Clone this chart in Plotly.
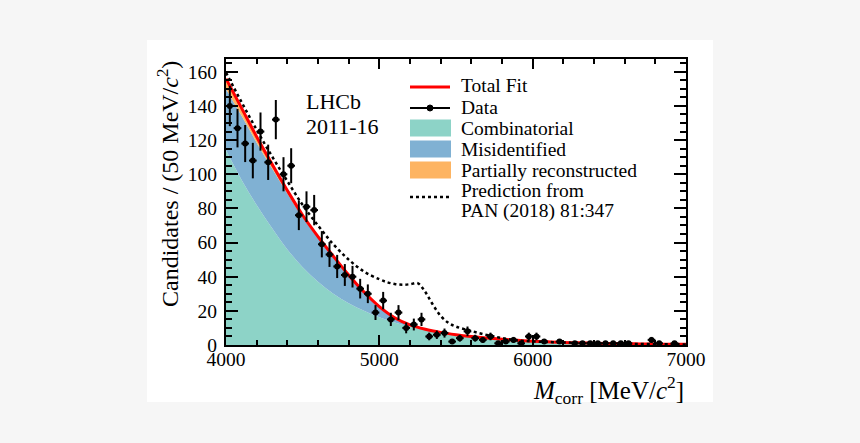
import numpy as np
import plotly.graph_objects as go

# ---------------- data ----------------
bin_width = 50
bin_centers = [4025 + 50 * i for i in range(60)]
counts = [140, 127, 118, 108, 125, 107, 132, 100, 105, 76,
          81, 79, 59, 53, 46, 41, 40, 33, 30, 19,
          26, 15, 19, 10, 12, 15, 5, 6, 7, 2,
          4, 8, 4, 3, 5, 1, 2, 3, 1, 5,
          5, 2, 0, 2, 0, 1, 1, 1, 1, 1,
          1, 1, 1, 0, 0, 3, 1, 0, 1, 0]

fit_mass = [4000, 4100, 4200, 4300, 4400, 4500, 4600, 4700, 4800, 4900,
            5000, 5100, 5200, 5300, 5400, 5500, 5600, 5700, 5800, 5900,
            6000, 6100, 6200, 6300, 6400, 6500, 6600, 6700, 6800, 6900, 7000]
combinatorial = [114, 97, 82, 68.5, 56, 45.5, 37, 30, 24.5, 20,
                 16.2, 13.2, 10.8, 8.8, 7.2, 5.9, 4.8, 3.9, 3.2, 2.6,
                 2.1, 1.7, 1.4, 1.15, 0.95, 0.8, 0.65, 0.55, 0.45, 0.35, 0.3]
misidentified = [36, 37.5, 36.5, 35, 32.7, 29.2, 25.6, 21.4, 16.1, 10.7,
                 6.1, 2.65, 0.9, 0.35, 0.15, 0.1, 0.1, 0.1, 0.1, 0.1,
                 0.1, 0.1, 0.05, 0.05, 0.05, 0.05, 0.05, 0.05, 0.05, 0.05, 0.05]
part_reco = [6, 4.5, 3.5, 2.5, 1.8, 1.3, 0.9, 0.6, 0.4, 0.3,
             0.2, 0.15, 0.1, 0.05, 0.05, 0.05, 0.05, 0.05, 0.05, 0.05,
             0.05, 0.05, 0.05, 0.05, 0.05, 0.05, 0.05, 0.05, 0.05, 0.05, 0.05]

pred_mass = [4000, 4100, 4200, 4300, 4400, 4500, 4600, 4700, 4800, 4900,
             5000, 5050, 5100, 5150, 5200, 5250, 5300, 5350, 5400, 5450,
             5500, 5600, 5700, 5800, 5900, 6000, 6200, 6400, 6600, 6800, 7000]
prediction = [159.5, 142.5, 126, 110.5, 96, 82, 70, 59, 50, 43,
              38.5, 36.8, 35.7, 35.3, 35.6, 36.2, 31, 23.5, 17, 13,
              10.8, 8.2, 5.9, 4.1, 2.7, 2.1, 1.5, 1.0, 0.7, 0.5, 0.35]

x_ticks = [4000, 5000, 6000, 7000]
y_ticks = [0, 20, 40, 60, 80, 100, 120, 140, 160]

# colours
C_COMB = "#8dd3c7"
C_MISID = "#80b1d3"
C_PART = "#fdb462"
FONT = "Liberation Serif"

# ---------------- derived ----------------
comb_arr = np.array(combinatorial)
cum_misid = comb_arr + np.array(misidentified)
total = cum_misid + np.array(part_reco)

y_data = np.array([c if c > 0 else np.nan for c in counts], dtype=float)
y_err = np.sqrt(np.nan_to_num(y_data))

fig = go.Figure()
fig.add_trace(go.Scatter(x=fit_mass, y=comb_arr, mode="lines", line=dict(width=0, shape="spline", color=C_COMB),
                         fill="tozeroy", fillcolor=C_COMB, showlegend=False))
fig.add_trace(go.Scatter(x=fit_mass, y=cum_misid, mode="lines", line=dict(width=0, shape="spline", color=C_MISID),
                         fill="tonexty", fillcolor=C_MISID, showlegend=False))
fig.add_trace(go.Scatter(x=fit_mass, y=total, mode="lines", line=dict(width=0, shape="spline", color=C_PART),
                         fill="tonexty", fillcolor=C_PART, showlegend=False))
fig.add_trace(go.Scatter(x=fit_mass, y=total, mode="lines", line=dict(width=3, shape="spline", color="#ff0000"),
                         showlegend=False))
fig.add_trace(go.Scatter(x=pred_mass, y=prediction, mode="lines",
                         line=dict(width=2.5, shape="spline", color="black", dash="dot"), showlegend=False))
fig.add_trace(go.Scatter(x=bin_centers, y=y_data, mode="markers",
                         marker=dict(color="black", size=6, symbol="circle"),
                         error_x=dict(type="constant", value=bin_width / 2, thickness=2, width=0, color="black"),
                         error_y=dict(type="data", array=y_err, thickness=2, width=0, color="black"),
                         showlegend=False))

# ---------------- layout ----------------
L, T, W, H = 226, 59, 460, 286
FIG_W, FIG_H = 860, 443


def px(x):
    return (x - L) / W


def py(y):
    return (T + H - y) / H


shapes = []
# white panel
shapes.append(dict(type="rect", xref="paper", yref="paper", x0=px(147), x1=px(713), y0=py(40), y1=py(402),
                   fillcolor="white", line=dict(width=0), layer="below"))
# legend symbols
shapes.append(dict(type="line", xref="paper", yref="paper", x0=px(410), x1=px(450), y0=py(87), y1=py(87),
                   line=dict(color="#ff0000", width=3)))
shapes.append(dict(type="line", xref="paper", yref="paper", x0=px(410), x1=px(450), y0=py(108), y1=py(108),
                   line=dict(color="black", width=2)))
shapes.append(dict(type="circle", xref="paper", yref="paper", x0=px(427), x1=px(433), y0=py(105), y1=py(111),
                   fillcolor="black", line=dict(color="black", width=1)))
for col, yc in [(C_COMB, 128), (C_MISID, 149), (C_PART, 170)]:
    shapes.append(dict(type="rect", xref="paper", yref="paper", x0=px(410), x1=px(451), y0=py(yc + 8.5),
                       y1=py(yc - 8.5), fillcolor=col, line=dict(width=0)))
shapes.append(dict(type="line", xref="paper", yref="paper", x0=px(410), x1=px(450), y0=py(197), y1=py(197),
                   line=dict(color="black", width=2.5, dash="dot")))

annotations = []
leg_texts = [("Total Fit", 86), ("Data", 107), ("Combinatorial", 128), ("Misidentified", 149),
             ("Partially reconstructed", 170), ("Prediction from", 190), ("PAN (2018) 81:347", 211)]
for txt, yc in leg_texts:
    annotations.append(dict(text=txt, xref="paper", yref="paper", x=px(459), y=py(yc), xanchor="left",
                            yanchor="middle", showarrow=False, font=dict(family=FONT, size=19.5, color="black")))
annotations.append(dict(text="LHCb", xref="paper", yref="paper", x=px(304), y=py(101), xanchor="left",
                        yanchor="middle", showarrow=False, font=dict(family=FONT, size=22, color="black")))
annotations.append(dict(text="2011-16", xref="paper", yref="paper", x=px(304), y=py(126), xanchor="left",
                        yanchor="middle", showarrow=False, font=dict(family=FONT, size=22, color="black")))
annotations.append(dict(text="Candidates / (50 MeV/<i>c</i><sup>2</sup>)", xref="paper", yref="paper",
                        x=px(168), y=1.0, xanchor="center", yanchor="top", textangle=-90, showarrow=False,
                        font=dict(family=FONT, size=24, color="black")))
annotations.append(dict(text="<i>M</i><sub>corr</sub> [MeV/<i>c</i><sup>2</sup>]", xref="paper", yref="paper",
                        x=1.0, y=py(390), xanchor="right", yanchor="middle", showarrow=False,
                        font=dict(family=FONT, size=25, color="black")))

axis_common = dict(showgrid=False, zeroline=False, showline=True, linewidth=2, linecolor="black",
                   mirror="allticks", ticks="inside", tickcolor="black", tickwidth=2,
                   tickfont=dict(family=FONT, size=19.5, color="black"))

fig.update_layout(
    width=FIG_W, height=FIG_H,
    margin=dict(l=L, r=FIG_W - L - W, t=T, b=FIG_H - T - H, autoexpand=False),
    paper_bgcolor="#f6f6f6", plot_bgcolor="white",
    shapes=shapes, annotations=annotations, showlegend=False,
    xaxis=dict(range=[4000, 7000], tickvals=x_ticks, ticklen=10, ticklabelstandoff=-4,
               minor=dict(dtick=200, ticklen=5, tickwidth=2, ticks="inside", tickcolor="black"),
               **axis_common),
    yaxis=dict(range=[0, 167.5], tickvals=y_ticks, ticklen=12, ticklabelstandoff=3,
               minor=dict(dtick=5, ticklen=6, tickwidth=2, ticks="inside", tickcolor="black"),
               **axis_common),
)

fig.write_html("out.html")
